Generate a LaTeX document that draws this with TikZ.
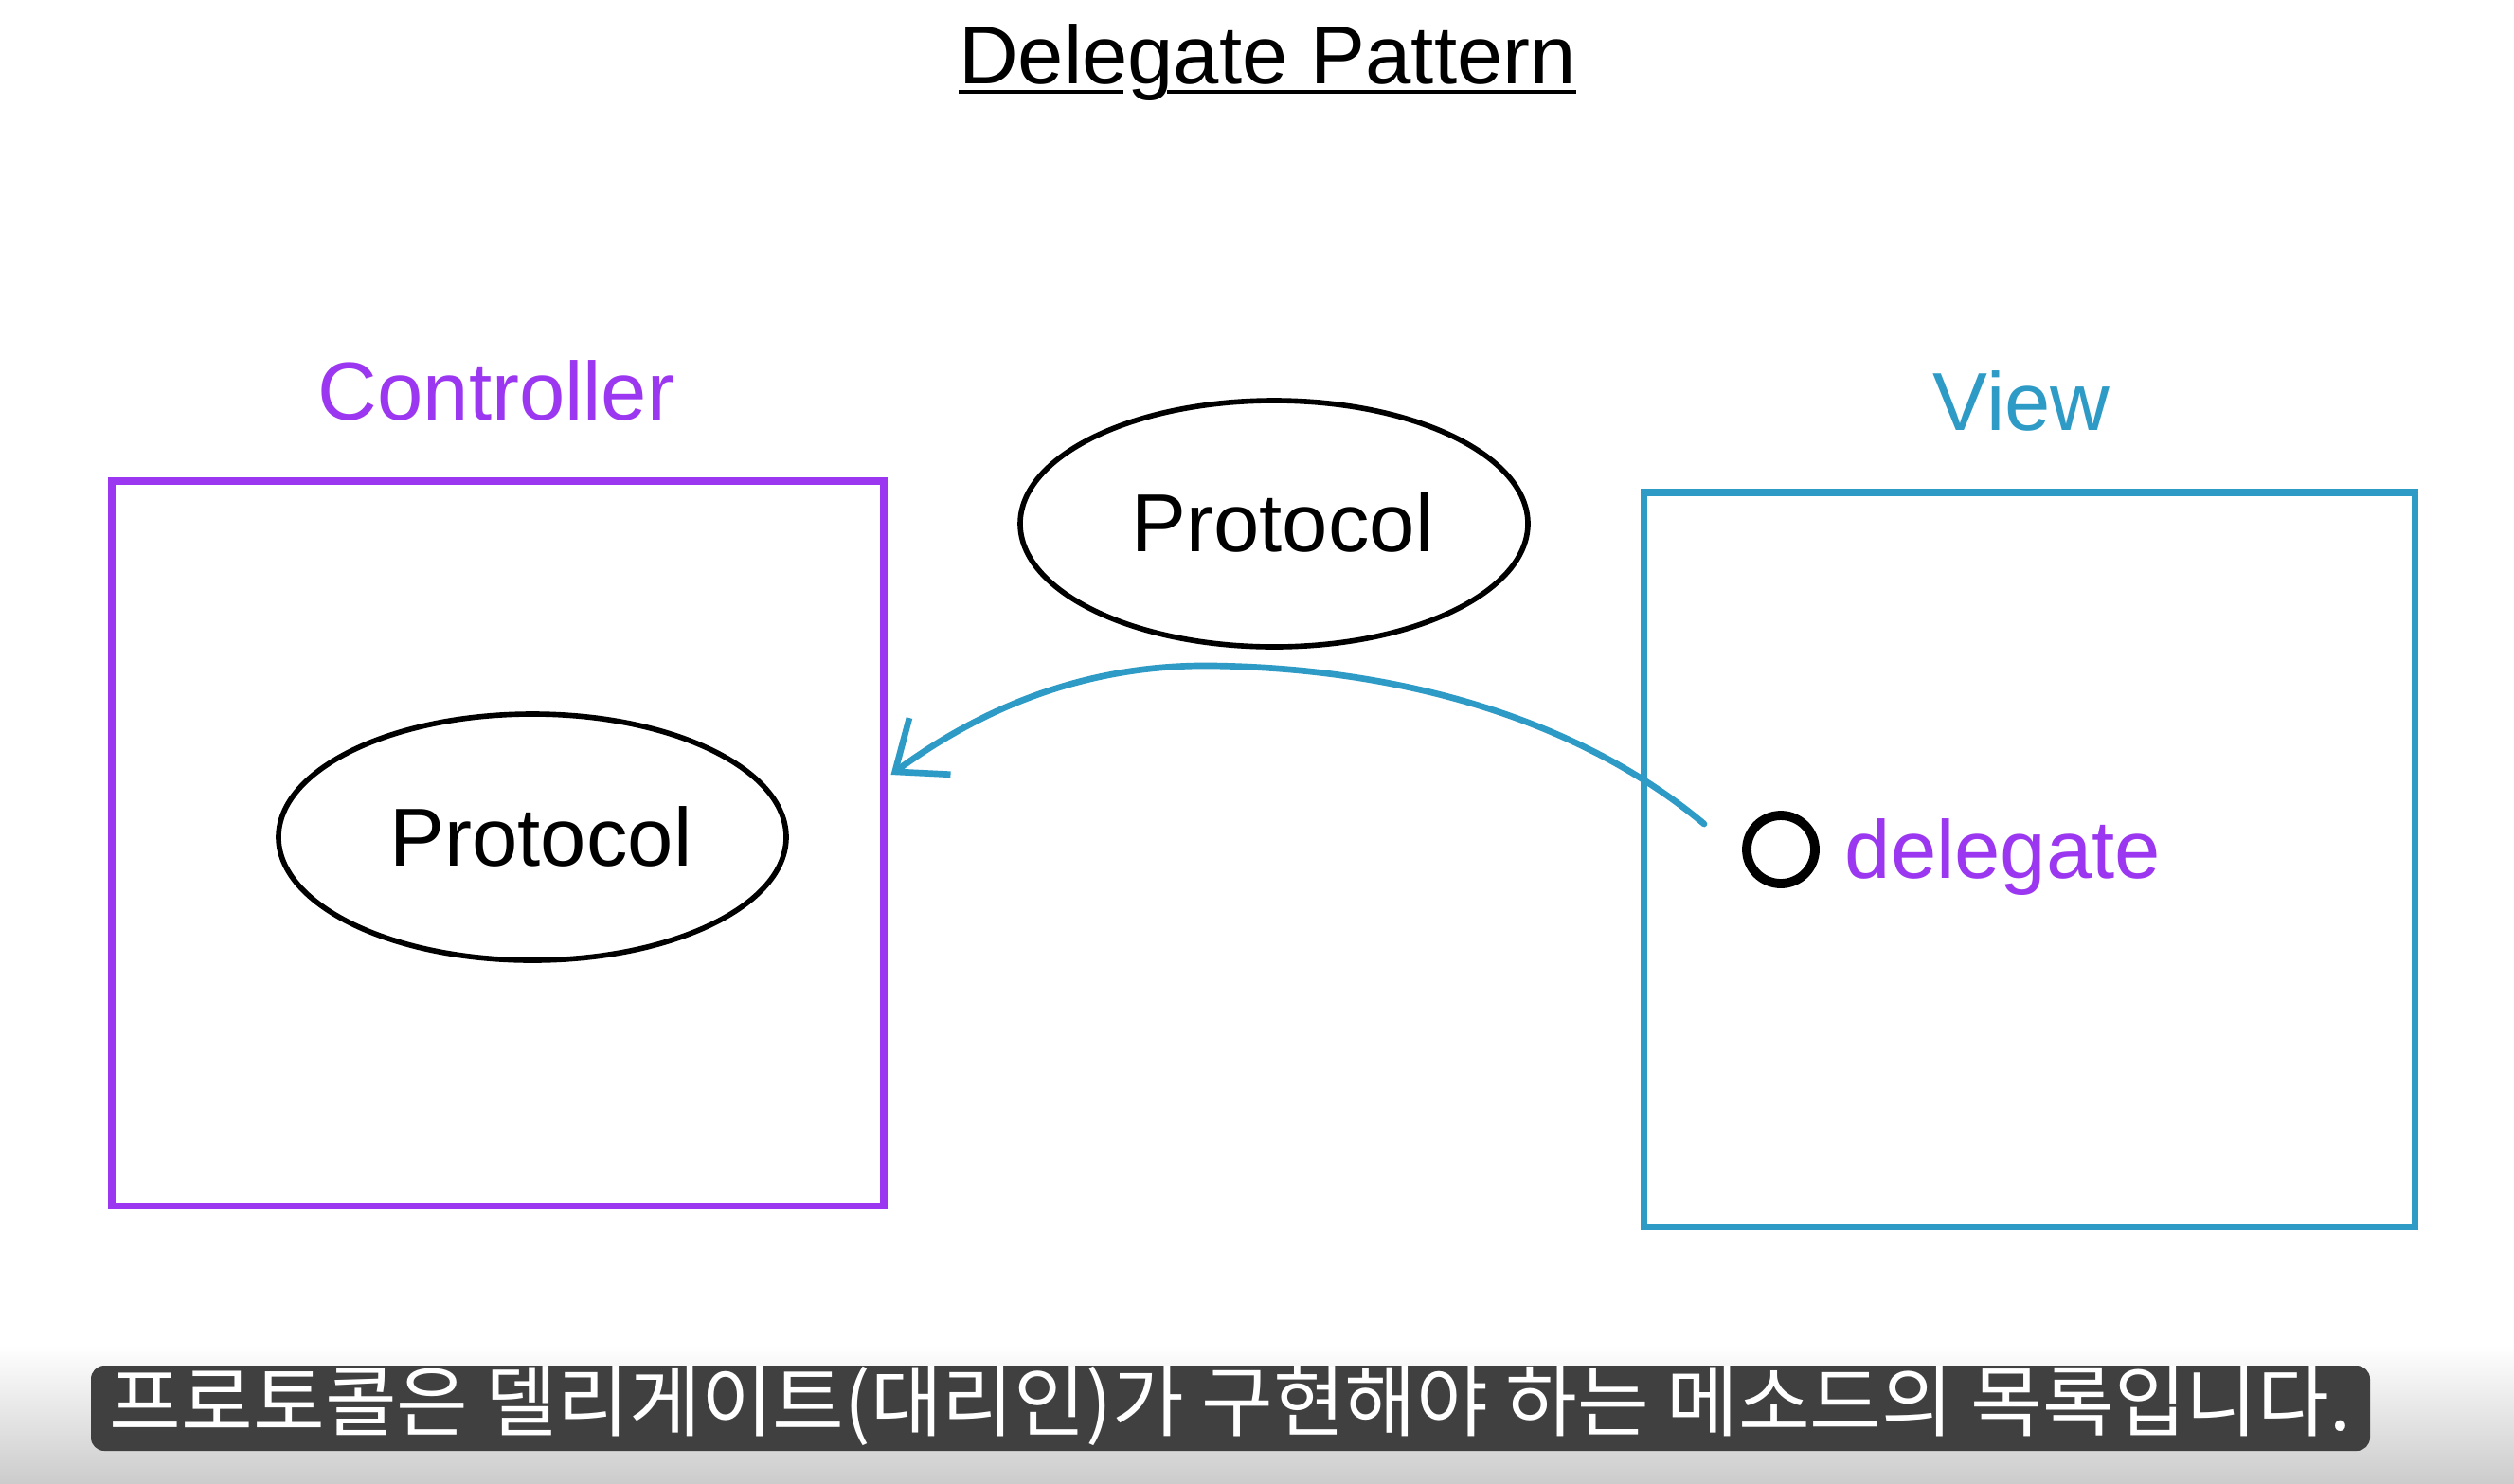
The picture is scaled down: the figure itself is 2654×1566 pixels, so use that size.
\documentclass[tikz,border=0pt]{standalone}
\usepackage{fontspec}
\setmainfont{Liberation Sans}
\newfontfamily\krfont{Noto Sans CJK KR}
\usetikzlibrary{arrows.meta,shapes.geometric}
\definecolor{ctrlpurple}{RGB}{155,55,240}
\definecolor{viewteal}{RGB}{46,155,198}
\definecolor{subgray}{RGB}{64,64,64}
\newlength{\pxu}\setlength{\pxu}{0.01cm}
\tikzset{
  big/.style={font=\fontsize{24.7pt}{28pt}\selectfont, inner sep=0pt},
  boxline/.style={line width=2pt},
  protoell/.style={draw=black, line width=1.6pt, ellipse, minimum width=536\pxu, minimum height=260\pxu, inner sep=0pt},
}
\begin{document}
\begin{tikzpicture}[x=0.01cm,y=-0.01cm]
\useasboundingbox (0,0) rectangle (2654,1566);
\fill[white] (0,0) rectangle (2654,1566);
\shade[top color=white,bottom color=black!20] (0,1420) rectangle (2654,1566);
% title
\node[big, anchor=base] (title) at (1338,88) {Delegate Pattern};
\draw[line width=0.9pt] (1012,97) -- (1186,97) (1232,97) -- (1664,97);
% controller
\node[big, anchor=base, text=ctrlpurple] (ctrllabel) at (524,443) {Controller};
\node[draw=ctrlpurple, boxline, minimum width=815\pxu, minimum height=765\pxu, inner sep=0pt] (ctrl) at (525.5,890.5) {};
\node[protoell] (protoA) at (562,884) {};
\node[big, anchor=base] (protoAtext) at (571,914) {Protocol};
% view
\node[big, anchor=base, text=viewteal] (viewlabel) at (2134,454) {View};
\node[draw=viewteal, boxline, minimum width=814\pxu, minimum height=775\pxu, inner sep=0pt] (view) at (2142,907.5) {};
% top protocol
\node[protoell] (protoB) at (1345,553) {};
\node[big, anchor=base] (protoBtext) at (1354,582) {Protocol};
% delegate
\node[draw=black, circle, line width=2.8pt, minimum size=72\pxu, inner sep=0pt] (dot) at (1880,897) {};
\node[big, anchor=base west, text=ctrlpurple] (deleg) at (1947,927) {delegate};
\coordinate (start) at (1799,870);
\coordinate (tip) at (ctrl.east |- 0,818);
\draw[viewteal, line width=1.9pt, line cap=round, -{Straight Barb[length=13pt,width=21pt,line width=1.9pt]}]
  (start) .. controls (1680,770) and (1500,706) .. (1280,703)
  .. controls (1130,701) and (1020,760) .. ([xshift=4\pxu]tip);
% subtitle
\node[fill=subgray, rounded corners=4pt, minimum width=2406\pxu, minimum height=90\pxu, inner sep=0pt] (sub) at (1299,1487) {};
\node[text=white, font=\krfont\fontsize{23.4pt}{26pt}\selectfont, inner sep=0pt] (subtext) at (1299,1485) {프로토콜은 델리게이트(대리인)가 구현해야 하는 메소드의 목록입니다.};
\end{tikzpicture}
\end{document}
